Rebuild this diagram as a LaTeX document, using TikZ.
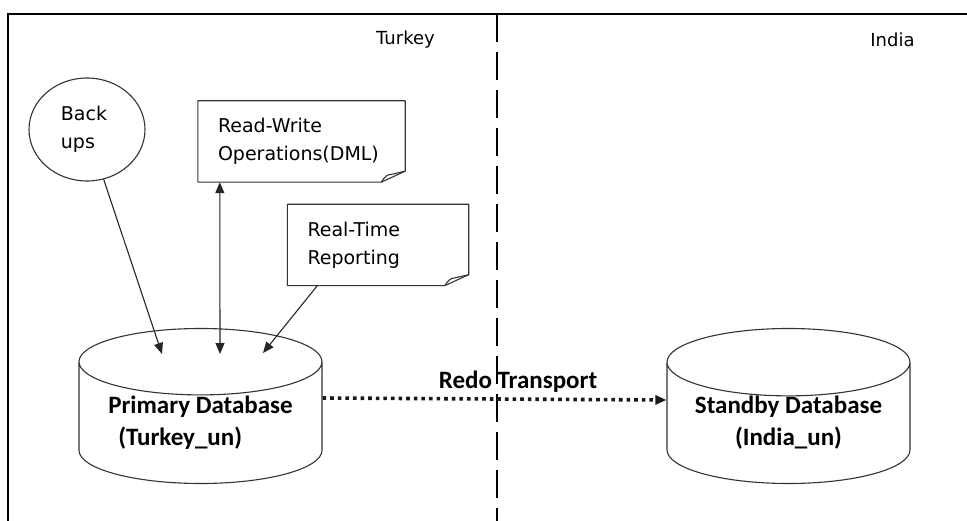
\documentclass[tikz,border=0pt]{standalone}
\usepackage{fontspec}
\setmainfont{DejaVu Sans}
\newfontfamily\dbfont{Carlito}
\usetikzlibrary{arrows.meta,positioning,calc,shapes.geometric}
\tikzset{
  notebox/.style={align=left, inner xsep=20pt, inner ysep=0pt,
    minimum height=81pt, font=\fontsize{19}{28}\selectfont},
  noteline/.style={draw=black!80, line width=1.1pt, line join=round},
  bubble/.style={draw=black!80, ellipse, line width=1.1pt, minimum width=116pt,
    minimum height=103pt, inner sep=0pt, align=left, font=\fontsize{19}{28}\selectfont},
  dbcyl/.style={draw=black!80, cylinder, shape border rotate=90, aspect=0.36,
    line width=1.1pt, minimum width=243pt, minimum height=155pt, inner sep=0pt,
    anchor=shape center, font=\dbfont\bfseries\fontsize{25}{32}\selectfont},
  regionlabel/.style={font=\fontsize{18}{22}\selectfont},
  arrow/.style={-{Triangle[length=11pt,width=9pt]}, line width=1.1pt, draw=black!85},
  redo/.style={-{Triangle[length=11pt,width=9pt]}, line width=3.6pt,
    dash pattern=on 3.6pt off 4pt, draw=black!90},
  divider/.style={line width=2.6pt, dash pattern=on 28pt off 10pt}
}
\begin{document}
\begin{tikzpicture}[x=1pt, y=-1pt]
  \useasboundingbox (0,0) rectangle (967,521);
  \fill[white] (0,0) rectangle (967,521);
  % frame and site border
  \draw[line width=1.4pt] (8,521) -- (8,14) -- (967,14);
  \coordinate (divtop) at (497,14);
  \coordinate (divbot) at (497,521);
  \draw[divider] (divtop) -- (divbot);
  \node[regionlabel] (turkey) at (405.5,40) {Turkey};
  \node[regionlabel] (india) at (892.5,40) {India};

  \node[bubble] (backups) at (87,129.5) {\hspace*{-6pt}Back\\\hspace*{-6pt}ups};
  \node[notebox, minimum width=207pt, text width=167pt] (rw) at (301.5,141.5) {Read-Write\\Operations(DML)};
  \node[notebox, minimum width=180pt, text width=141pt] (rt) at (378,245) {Real-Time\\Reporting};
  \foreach \n in {rw,rt} {
    \draw[noteline] (\n.north west) -- (\n.north east) -- ([yshift=11pt]\n.south east)
      -- ([xshift=-24pt]\n.south east) -- (\n.south west) -- cycle;
    \draw[noteline] ([xshift=-24pt]\n.south east) .. controls ([xshift=-19pt,yshift=7pt]\n.south east)
      .. ([xshift=-13pt,yshift=8pt]\n.south east) -- ([yshift=11pt]\n.south east);
  }

  \node[dbcyl, align=left] (prim) at (200.5,406) {Primary Database\\\hspace*{10pt}(Turkey\_un)};
  \node[dbcyl, align=center] (stby) at (788.5,406) {Standby Database\\(India\_un)};

  % inputs into the primary
  \coordinate (inbk) at (162,354);
  \coordinate (inrw) at (220,354);
  \coordinate (inrt) at (263,353);
  \draw[arrow] (backups) -- (inbk);
  \draw[arrow, {Triangle[length=11pt,width=9pt]}-{Triangle[length=11pt,width=9pt]}]
    ([xshift=22pt]rw.south west) -- (inrw);
  \draw[arrow] ([xshift=30pt]rt.south west) -- (inrt);

  % shipping of redo
  \draw[redo] (prim.east |- 0,398) -- (stby.west |- 0,400);
  \node[font=\dbfont\bfseries\fontsize{25}{30}\selectfont] (redolbl) at (518,382) {Redo Transport};
\end{tikzpicture}
\end{document}
